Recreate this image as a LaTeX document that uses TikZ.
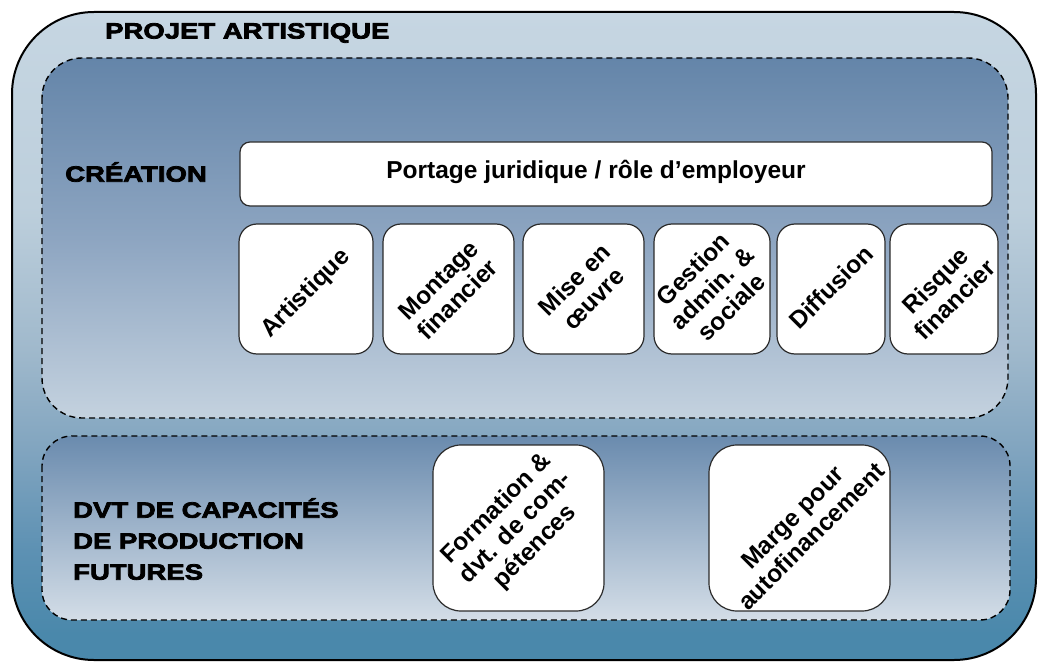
\documentclass[tikz,border=0pt]{standalone}
\usepackage{fontspec}
\setmainfont{Liberation Sans}
\newfontfamily\headfont[FakeStretch=1.25,FakeBold=3.5]{Liberation Sans Bold}
\usetikzlibrary{positioning}

\definecolor{fondhaut}{HTML}{C6D6E2}
\definecolor{fondclair}{HTML}{BDCFDC}
\definecolor{fondgris}{HTML}{A0B9CC}
\definecolor{fondmil}{HTML}{80A4BF}
\definecolor{fondfonce}{HTML}{5D91B3}
\definecolor{fondbas}{HTML}{4A88AB}
\definecolor{creahaut}{HTML}{6485A9}
\definecolor{creamil}{HTML}{8DA5C1}
\definecolor{creabas}{HTML}{C4D2DF}
\definecolor{dvthaut}{HTML}{6A8BAE}
\definecolor{dvtbas}{HTML}{D3DDE7}
\definecolor{bord}{HTML}{2B2B2B}

% 0bp = bas, la zone 25bp--75bp couvre la boite
\pgfdeclareverticalshading{projetfond}{100bp}{color(0bp)=(fondbas); color(27bp)=(fondbas);
  color(33.5bp)=(fondfonce); color(41bp)=(fondmil); color(49bp)=(fondgris); color(60bp)=(fondclair);
  color(75bp)=(fondhaut); color(100bp)=(fondhaut)}
\pgfdeclareverticalshading{creafond}{100bp}{color(0bp)=(creabas); color(25bp)=(creabas);
  color(50bp)=(creamil); color(75bp)=(creahaut); color(100bp)=(creahaut)}
\pgfdeclareverticalshading{dvtfond}{100bp}{color(0bp)=(dvtbas); color(25bp)=(dvtbas);
  color(75bp)=(dvthaut); color(100bp)=(dvthaut)}

\tikzset{
  zone/.style={draw=black, line width=1.4pt, dash pattern=on 6pt off 4pt},
  tache/.style={draw=bord, line width=1.2pt, fill=white, rounded corners=18pt},
  diag/.style={rotate=45, align=center, font=\fontsize{24.5}{27}\selectfont\bfseries, inner sep=0pt},
  titre/.style={anchor=west, align=left, font=\fontsize{22}{31}\selectfont\headfont, inner sep=0pt}
}

\begin{document}
\begin{tikzpicture}[x=1pt, y=-1pt]
  \useasboundingbox (0,0) rectangle (1038,663);

  % cadre general
  \draw[line width=2pt, shading=projetfond, rounded corners=82pt] (12,12) rectangle (1036,660);
  \node[titre] (projet) at (105,33) {PROJET ARTISTIQUE};

  % creation
  \draw[zone, shading=creafond, rounded corners=40pt] (42,58) rectangle (1008,418);
  \node[titre] (creation) at (65,172) {CRÉATION};
  \draw[tache, rounded corners=10pt] (240,142) rectangle (992,206);
  \node[font=\fontsize{24.5}{27}\selectfont\bfseries] (portage) at (596,172) {Portage juridique / rôle d’employeur};

  \draw[tache] (239,224) rectangle (373,354);
  \node[diag] (artistique) at (306,294) {Artistique};
  \draw[tache] (383,224) rectangle (514,354);
  \node[diag] (montage) at (448,290) {Montage\\financier};
  \draw[tache] (523,224) rectangle (644,354);
  \node[diag] (miseoeuvre) at (584,289) {Mise en\\œuvre};
  \draw[tache] (654,224) rectangle (770,354);
  \node[diag] (gestion) at (712,288) {Gestion\\admin. \&\\sociale};
  \draw[tache] (777,224) rectangle (885,354);
  \node[diag] (diffusion) at (831,287) {Diffusion};
  \draw[tache] (890,224) rectangle (998,354);
  \node[diag] (risque) at (945,290) {Risque\\financier};

  % capacites futures
  \draw[zone, shading=dvtfond, rounded corners=30pt] (42,436) rectangle (1010,620);
  \node[titre] (dvt) at (73,539) {DVT DE CAPACITÉS\\DE PRODUCTION\\FUTURES};

  \draw[tache, rounded corners=28pt] (433,445) rectangle (604,611);
  \node[diag] (formation) at (516,528) {Formation \&\\dvt. de com-\\pétences};
  \draw[tache, rounded corners=28pt] (709,445) rectangle (890,611);
  \node[diag] (marge) at (802,527) {Marge pour\\autofinancement};
\end{tikzpicture}
\end{document}
